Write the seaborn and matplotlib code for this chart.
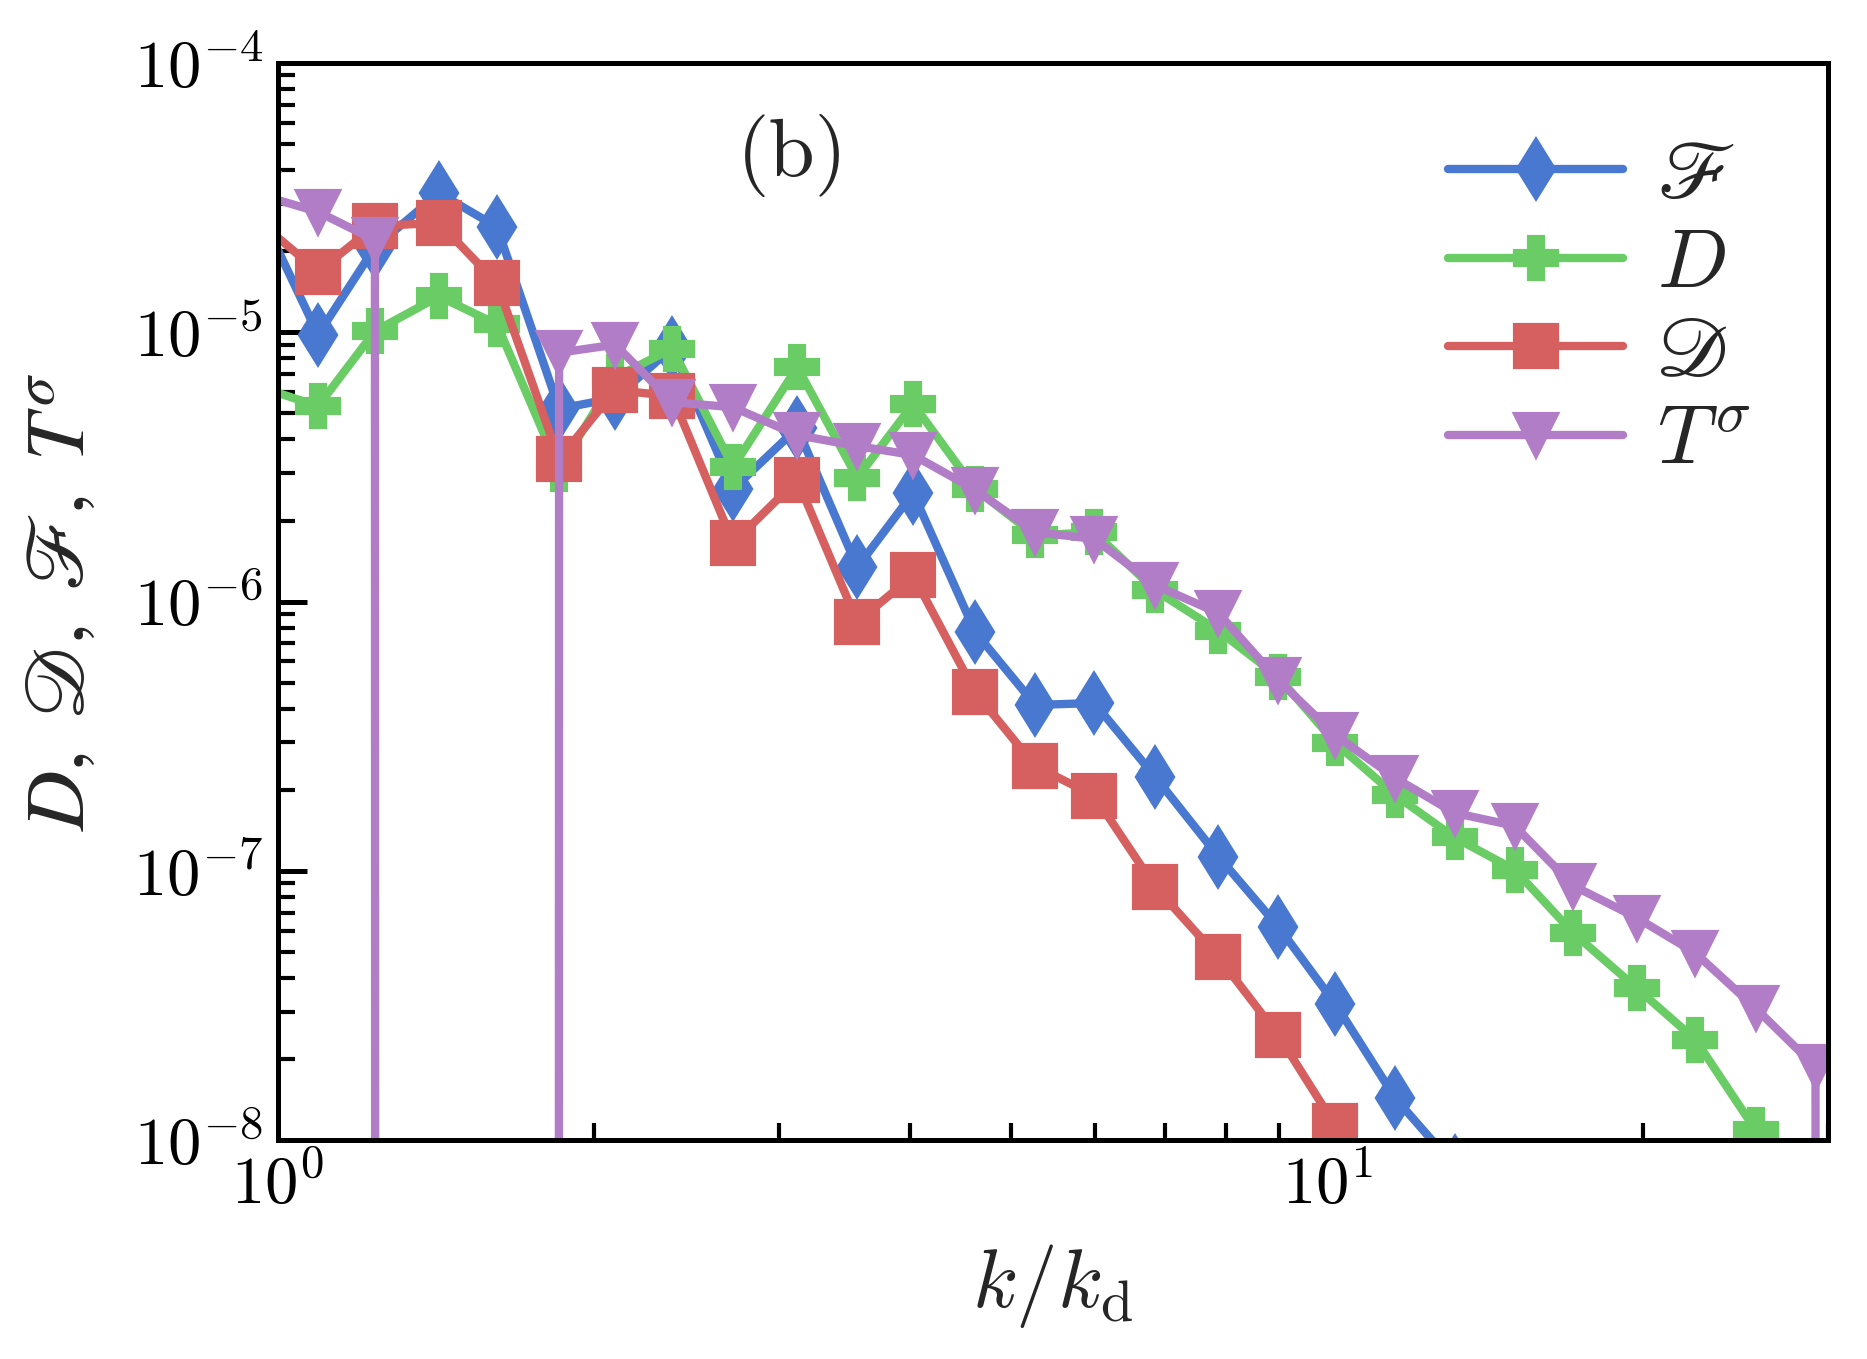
import numpy as np
import matplotlib
matplotlib.use("Agg")
import matplotlib.pyplot as plt
import seaborn as sns

# wavenumber bins k/k_d (first bin lies just left of the axis, last just right)
k_ratio = [0.957, 1.092, 1.237, 1.424, 1.617, 1.853, 2.096, 2.375, 2.715, 3.125,
           3.565, 4.030, 4.618, 5.268, 5.997, 6.856, 7.874, 8.981, 10.18, 11.61,
           13.22, 15.08, 17.16, 19.71, 22.43, 25.59, 29.19, 33.30]

nan = np.nan
# script F (blue diamonds)
flux_F = [2.9e-5, 9.8e-6, 2.07e-5, 3.29e-5, 2.46e-5, 5.2e-6, 5.7e-6, 8.75e-6, 2.62e-6, 4.41e-6,
          1.34e-6, 2.53e-6, 7.7e-7, 4.13e-7, 4.2e-7, 2.23e-7, 1.13e-7, 6.2e-8, 3.2e-8, 1.43e-8,
          8.0e-9, nan, nan, nan, nan, nan, nan, nan]
# D (green plus)
diss_D = [6.3e-6, 5.32e-6, 1.01e-5, 1.36e-5, 1.07e-5, 3.1e-6, 6.8e-6, 8.7e-6, 3.16e-6, 7.43e-6,
          2.88e-6, 5.42e-6, 2.62e-6, 1.76e-6, 1.81e-6, 1.10e-6, 7.8e-7, 5.25e-7, 2.98e-7, 1.91e-7,
          1.33e-7, 1.01e-7, 5.87e-8, 3.67e-8, 2.36e-8, 1.09e-8, 4.5e-9, nan]
# script D (red squares)
diss_scrD = [2.6e-5, 1.68e-5, 2.48e-5, 2.55e-5, 1.52e-5, 3.38e-6, 6.1e-6, 5.8e-6, 1.65e-6, 2.83e-6,
             8.4e-7, 1.25e-6, 4.6e-7, 2.45e-7, 1.90e-7, 8.7e-8, 4.78e-8, 2.45e-8, 1.13e-8, 5.0e-9,
             nan, nan, nan, nan, nan, nan, nan, nan]
# T^sigma (purple triangles), negative values fall off the log axis
transfer_T = [3.26e-5, 2.80e-5, 2.20e-5, -1e-6, -1e-6, 8.4e-6, 9.0e-6, 5.5e-6, 5.27e-6, 4.15e-6,
              3.78e-6, 3.5e-6, 2.6e-6, 1.81e-6, 1.71e-6, 1.15e-6, 9.06e-7, 5.1e-7, 3.19e-7, 2.21e-7,
              1.64e-7, 1.47e-7, 8.8e-8, 6.7e-8, 4.95e-8, 3.09e-8, 1.87e-8, -1e-8]

labels = [r"$\mathscr{F}$", r"$D$", r"$\mathscr{D}$", r"$T^{\sigma}$"]
series = [flux_F, diss_D, diss_scrD, transfer_T]
markers = ["d", "P", "s", "v"]
colors = ["#4878d0", "#6acc64", "#d65f5f", "#b27dc7"]
script_label = [True, False, True, False]

sns.set_theme(style="ticks")
plt.rcParams.update({
    "font.family": "serif",
    "font.serif": ["cmr10", "DejaVu Serif"],
    "mathtext.fontset": "cm",
    "axes.formatter.use_mathtext": True,
    "axes.linewidth": 1.2,
    "axes.edgecolor": "black",
})

fig, ax = plt.subplots(figsize=(1867 / 300, 1359 / 300), dpi=300)
fig.subplots_adjust(left=0.1489, right=0.9791, bottom=0.1611, top=0.9536)

for lab, vals, mk, col in zip(labels, series, markers, colors):
    sns.lineplot(x=k_ratio, y=vals, ax=ax, color=col, marker=mk, markersize=10,
                 markeredgewidth=1, markeredgecolor=col, linewidth=2,
                 label=lab, sort=False, estimator=None)

ax.set_xscale("log", nonpositive="clip")
ax.set_yscale("log", nonpositive="clip")
ax.set_xlim(1, 30)
ax.set_ylim(1e-8, 1e-4)

ax.tick_params(which="both", direction="in", top=False, right=False, labelsize=16, colors="black")
ax.tick_params(which="major", length=7, width=1.2)
ax.tick_params(which="minor", length=4, width=1.0)

ax.set_xlabel(r"$k/k_{\rm d}$", fontsize=20, labelpad=6)
ylab = ax.set_ylabel(r"$D,\ \mathscr{D},\ \mathscr{F},\ T^{\sigma}$", fontsize=20, labelpad=8)
ylab.set_math_fontfamily("stix")

ax.text(0.332, 0.914, "(b)", transform=ax.transAxes, ha="center", va="center", fontsize=20)

handles, _ = ax.get_legend_handles_labels()
leg = ax.legend(handles, labels, loc="upper right", bbox_to_anchor=(0.998, 0.998),
                frameon=False, fontsize=20, handlelength=2.1, labelspacing=0.17,
                handletextpad=0.4)
for txt, scr in zip(leg.get_texts(), script_label):
    if scr:
        txt.set_math_fontfamily("stix")

fig.savefig("out.png", dpi=300)
